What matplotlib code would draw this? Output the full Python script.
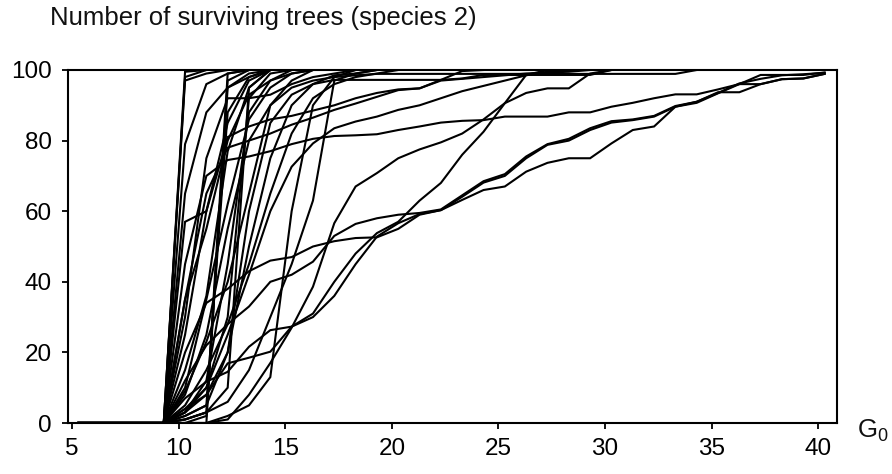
import matplotlib
matplotlib.use("Agg")
import matplotlib.pyplot as plt

plt.rcParams['font.family'] = ['Liberation Sans', 'DejaVu Sans']
plt.rcParams['mathtext.fontset'] = 'custom'
plt.rcParams['mathtext.rm'] = 'Liberation Sans'
plt.rcParams['mathtext.it'] = 'Liberation Sans'

# G0 grid (x values of every series)
g0 = [5.3, 6.3, 7.3, 8.3, 9.3, 10.3, 11.3, 12.3, 13.3, 14.3, 15.3, 16.3,
      17.3, 18.3, 19.3, 20.3, 21.3, 22.3, 23.3, 24.3, 25.3, 26.3, 27.3,
      28.3, 29.3, 30.3, 31.3, 32.3, 33.3, 34.3, 35.3, 36.3, 37.3, 38.3,
      39.3, 40.3]

# Number of surviving trees per run (series end once they reach 100)
s01 = [0, 0, 0, 0, 0, 98, 100]
s02 = [0, 0, 0, 0, 0, 99.5, 100]
s03 = [0, 0, 0, 0, 0, 97, 99, 100]
s04 = [0, 0, 0, 0, 0, 79, 96, 99, 100]
s05 = [0, 0, 0, 0, 0, 57, 60, 85, 97, 100]
s06 = [0, 0, 0, 0, 0, 45, 70, 74.5, 75.5, 77, 79, 80.5, 81.3, 81.5, 81.8, 83, 84,
       85.1, 85.6, 85.8, 86.8, 86.8, 86.8, 88, 88, 89.6, 90.7, 92, 93.1, 93.1,
       94.5, 96, 96, 97.4, 97.6, 98.9]
s07 = [0, 0, 0, 0, 0, 25, 60, 81, 84, 86, 87, 88.5, 90, 92, 93.5, 94.5, 94.8, 97,
       97.5, 98, 98.5, 99, 99.3, 99.5, 100]
s08 = [0, 0, 0, 0, 0, 20, 34, 38, 43, 46, 47, 50, 51.5, 52.4, 52.6, 55, 59, 60.3,
       64.1, 68.1, 70, 75, 78.8, 80, 83, 85.1, 85.8, 86.8, 89.6, 90.7, 93.4, 96,
       98.6, 98.6, 98.6, 99.3]
s09 = [0, 0, 0, 0, 0, 12, 22, 28, 33, 40, 42, 45.7, 53, 56.4, 58, 59, 59.5, 60.5,
       64.5, 68.5, 70.5, 75.5, 79, 80.5, 83.5, 85.5, 86, 87, 89.8, 91, 93.5, 96.2,
       97.5, 98.5, 98.8, 99.2]
s10 = [0, 0, 0, 0, 0, 7, 11.7, 14.5, 21.6, 26.3, 27.3, 31, 40, 48, 53.8, 57, 63,
       68, 76, 82.5, 90.6, 98.6, 100]
s11 = [0, 0, 0, 0, 0, 3, 8, 16.9, 18.5, 20.2, 27.3, 30, 36, 45, 52.8, 56.6, 59.2,
       60.3, 63.2, 66, 67, 71.2, 73.7, 75, 75, 79.2, 83, 84, 89.6, 91, 93.7, 93.7,
       96, 97.4, 97.6, 98.9]
s12 = [0, 0, 0, 0, 0, 0, 0, 1, 8, 17, 27, 38.6, 56.6, 67, 70.8, 75, 77.5, 79.5,
       82, 86, 90.6, 93.5, 94.8, 94.8, 99, 100]
s13 = [0, 0, 0, 0, 0, 2, 5, 20, 60, 85, 93, 96, 97.2, 97.2, 97.2, 97.2, 97.2,
       97.2, 97.6, 98.6, 98.6, 98.6, 98.6, 98.6, 98.6, 100]
s14 = [0, 0, 0, 0, 0, 0, 0, 97, 100]
s15 = [0, 0, 0, 0, 0, 1, 3, 99, 100]
s16 = [0, 0, 0, 0, 0, 0, 2, 95, 99, 100]
s17 = [0, 0, 0, 0, 0, 2, 5, 88, 98, 100]
s18 = [0, 0, 0, 0, 0, 1, 3, 10, 95, 100]
s19 = [0, 0, 0, 0, 0, 4, 10, 30, 92, 99, 100]
s20 = [0, 0, 0, 0, 0, 3, 12, 45, 88, 97, 100]
s21 = [0, 0, 0, 0, 0, 10, 35, 62, 86, 95, 99, 100]
s22 = [0, 0, 0, 0, 0, 15, 36, 77, 95, 100]
s23 = [0, 0, 0, 0, 0, 9, 23, 40, 65, 90, 97, 100]
s24 = [0, 0, 0, 0, 0, 0, 0, 2, 5, 13, 60, 90, 98, 100]
s25 = [0, 0, 0, 0, 0, 1, 3, 6, 15, 30, 45, 63, 97, 99, 100]
s26 = [0, 0, 0, 0, 0, 5, 15, 28, 45, 65, 82, 92, 96, 98, 99, 100]
s27 = [0, 0, 0, 0, 0, 30, 75, 92, 92, 93, 96, 98, 99, 100]
s28 = [0, 0, 0, 0, 0, 65, 88, 95, 98, 100]
s29 = [0, 0, 0, 0, 0, 35, 55, 80, 93, 97, 99, 100]
s30 = [0, 0, 0, 0, 0, 4, 8, 20, 50, 75, 90, 96, 98.5, 99, 100]
s31 = [0, 0, 0, 0, 0, 8, 25, 55, 80, 90, 95, 97, 98, 98.5, 98.9, 98.9, 98.9, 98.9,
       98.9, 98.9, 98.9, 98.9, 98.9, 98.9, 98.9, 98.9, 98.9, 98.9, 98.9, 100]
s32 = [0, 0, 0, 0, 0, 3, 10, 25, 42, 60, 72.6, 79.2, 83.5, 85.4, 86.8, 88.7, 90,
       92, 94, 95.5, 97, 98.5, 99.5, 100]
s33 = [0, 0, 0, 0, 0, 35, 65, 78, 80, 82, 84.5, 86.5, 88.7, 90.5, 92.4, 94.3,
       94.8, 97.2, 99.7, 100]

runs = [s01, s02, s03, s04, s05, s06, s07, s08, s09, s10, s11, s12, s13, s14,
        s15, s16, s17, s18, s19, s20, s21, s22, s23, s24, s25, s26, s27, s28,
        s29, s30, s31, s32, s33]

x_ticks = [5, 10, 15, 20, 25, 30, 35, 40]
y_ticks = [0, 20, 40, 60, 80, 100]

fig = plt.figure(figsize=(8.92, 4.74), dpi=100)
ax = fig.add_axes([68 / 892, 1 - 423 / 474, (837 - 68) / 892, (423 - 70) / 474])

for s in runs:
    ax.plot(g0[:len(s)], s, color='black', lw=1.5, solid_joinstyle='miter')

ax.set_xlim(4.81, 40.88)
ax.set_ylim(0, 100)
ax.set_xticks(x_ticks)
ax.set_yticks(y_ticks)
ax.tick_params(axis='both', direction='out', length=4.5, width=1.3,
               labelsize=17.5, colors='black')
ax.tick_params(axis='y', pad=7)
ax.tick_params(axis='x', pad=6)
for sp in ax.spines.values():
    sp.set_color('black')
    sp.set_linewidth(1.5)

fig.text(50 / 892, 1 - 25 / 474, 'Number of surviving trees (species 2)',
         fontsize=18.5, va='baseline', ha='left', color='#111111')
fig.text(857 / 892, 1 - 438 / 474, r'G$_0$', fontsize=18.5, va='baseline',
         ha='left', color='#111111')

fig.savefig('out.png', dpi=100)
